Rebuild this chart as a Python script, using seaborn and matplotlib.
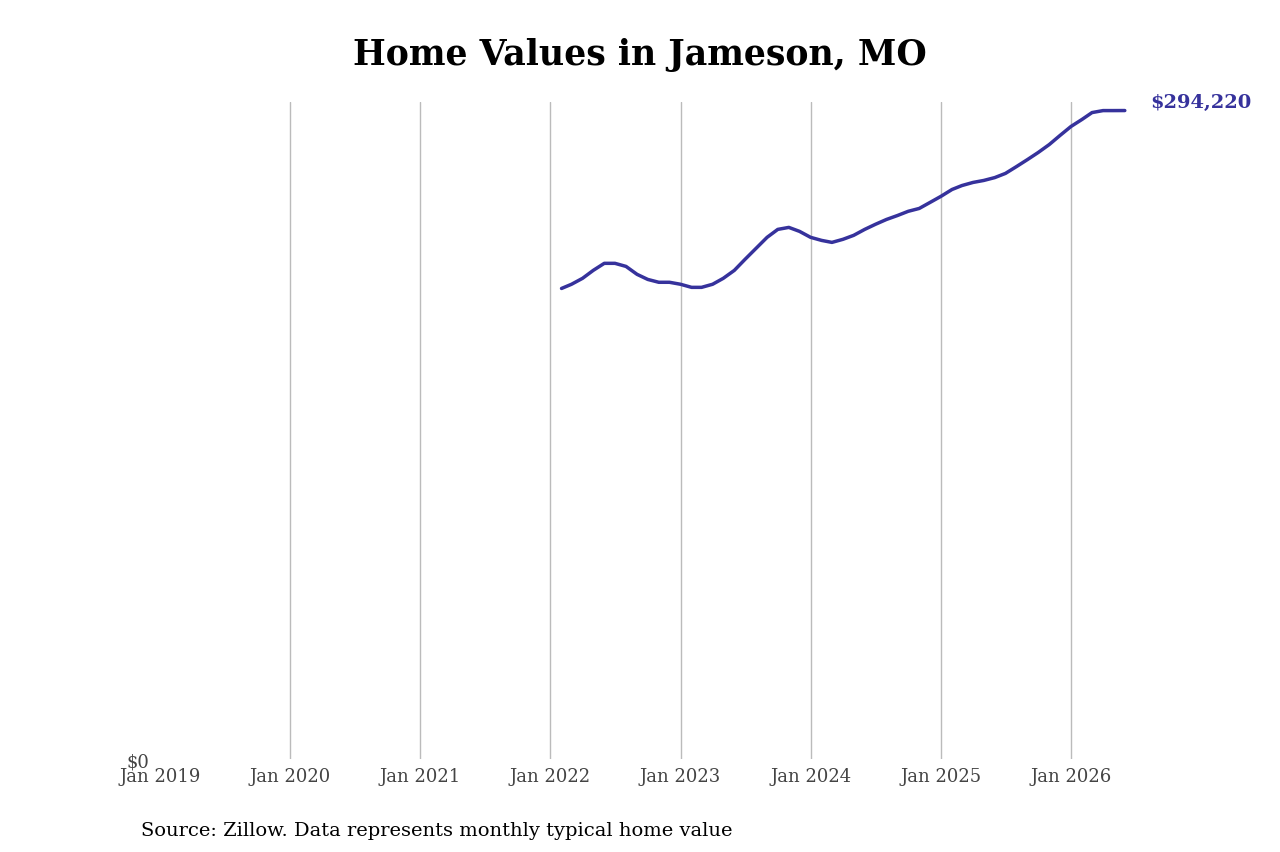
import pandas as pd
import seaborn as sns
import matplotlib.pyplot as plt

months = pd.date_range("2022-02-01", "2026-06-01", freq="MS")
values = [213500, 215400, 218100, 221700, 224900, 224900, 223500, 219900, 217600, 216300,
          216300, 215400, 214000, 214000, 215400, 218100, 221700, 226700, 231700, 236700,
          240300, 241200, 239400, 236700, 235300, 234400, 235800, 237600, 240300, 242600,
          244800, 246600, 248500, 249800, 252500, 255300, 258400, 260200, 261600, 262500,
          263800, 265700, 268800, 272000, 275200, 278800, 282900, 287000, 290200, 293300,
          294200, 294200, 294220]
tick_years = list(range(2019, 2027))
last_label = "$294,220"
line_color = "#36329c"

df = pd.DataFrame({"date": months, "value": values})

sns.set_theme(style="white")
plt.rcParams["font.family"] = "DejaVu Serif"

fig = plt.figure(figsize=(12.8, 8.53), dpi=100)
ax = fig.add_axes([0.125, 0.109, 0.766, 0.77])
sns.lineplot(data=df, x="date", y="value", color=line_color, linewidth=2.5, ax=ax)

ticks = [pd.Timestamp(f"{y}-01-01") for y in tick_years]
ax.set_xticks(ticks)
ax.set_xticklabels([f"Jan {y}" for y in tick_years], fontsize=13, color="#444444")
ax.set_xlim(pd.Timestamp("2019-01-01"), pd.Timestamp("2026-07-15"))
ax.set_ylim(0, 298000)
ax.set_yticks([0])
ax.set_yticklabels(["$0"], fontsize=13, color="#444444")
ax.tick_params(axis="y", pad=8, length=0)
ax.tick_params(axis="x", length=0, pad=6)
ax.grid(axis="x", color="#bbbbbb", linewidth=1)
ax.get_xgridlines()[0].set_visible(False)
for s in ax.spines.values():
    s.set_visible(False)
ax.set_xlabel("")
ax.set_ylabel("")

ax.annotate(last_label, (df["date"].iloc[-1], df["value"].iloc[-1]), xytext=(18, 0),
            textcoords="offset points", color=line_color, fontsize=14, fontweight="bold",
            va="bottom", annotation_clip=False)

fig.suptitle("Home Values in Jameson, MO", fontsize=25, fontweight="bold", y=0.955, color="black")
fig.text(0.11, 0.02, "Source: Zillow. Data represents monthly typical home value", fontsize=14, color="black")

fig.savefig("out.png", dpi=100)
